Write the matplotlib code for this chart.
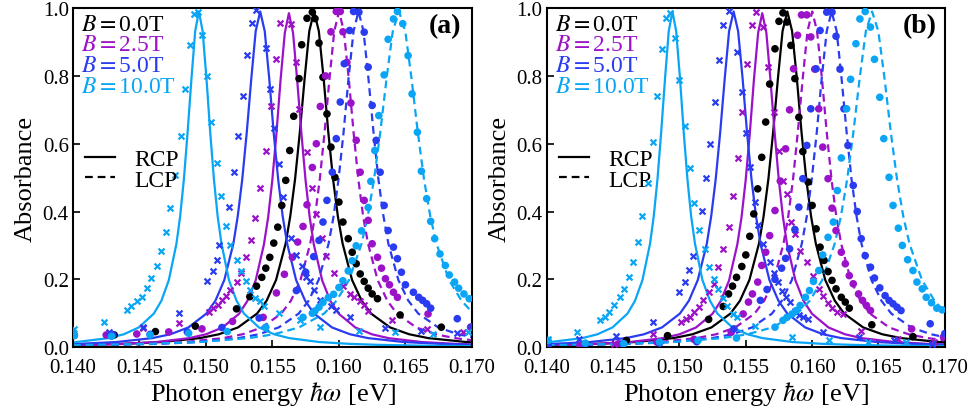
import matplotlib
matplotlib.use('Agg')
import matplotlib.pyplot as plt
from matplotlib.lines import Line2D

plt.rcParams['font.family'] = 'serif'
plt.rcParams['font.serif'] = ['Liberation Serif', 'DejaVu Serif']
plt.rcParams['mathtext.fontset'] = 'stix'

fields = ['0.0', '2.5', '5.0', '10.0']
colors = ['#000000', '#9c12c8', '#2a3cf0', '#0aa6f5']

# fitted curves (shared by both panels)
fit_rcp_x = {
    '0.0': [0.1400, 0.14383, 0.14669, 0.14955, 0.15098, 0.15241, 0.15384, 0.15456, 0.15527, 0.15599,
            0.15634, 0.15670, 0.15706, 0.15742, 0.15777, 0.15813, 0.15849, 0.15885, 0.15920, 0.15956,
            0.15992, 0.16028, 0.16099, 0.16171, 0.16242, 0.16385, 0.16528, 0.16671, 0.16957, 0.1700],
    '2.5': [0.1400, 0.14374, 0.14624, 0.14874, 0.14999, 0.15124, 0.15249, 0.15311, 0.15374, 0.15436,
            0.15468, 0.15499, 0.15530, 0.15561, 0.15593, 0.15624, 0.15655, 0.15686, 0.15718, 0.15749,
            0.15780, 0.15811, 0.15874, 0.15936, 0.15999, 0.16124, 0.16249, 0.16374, 0.16624, 0.16874, 0.1700],
    '5.0': [0.1400, 0.14328, 0.14598, 0.14733, 0.14868, 0.15003, 0.15071, 0.15138, 0.15206, 0.15239,
            0.15273, 0.15307, 0.15341, 0.15374, 0.15408, 0.15442, 0.15476, 0.15509, 0.15543, 0.15577,
            0.15611, 0.15678, 0.15746, 0.15813, 0.15948, 0.16083, 0.16218, 0.16488, 0.16758, 0.1700],
    '10.0': [0.1400, 0.14269, 0.14382, 0.14495, 0.14608, 0.14665, 0.14721, 0.14778, 0.14806, 0.14834,
             0.14862, 0.14891, 0.14919, 0.14947, 0.14975, 0.15004, 0.15032, 0.15060, 0.15088, 0.15117,
             0.15173, 0.15230, 0.15286, 0.15399, 0.15512, 0.15625, 0.15851, 0.16077, 0.16303, 0.16642, 0.1700],
}
fit_rcp_y = {
    '0.0': [0.0061, 0.0098, 0.0152, 0.0268, 0.0381, 0.0582, 0.099, 0.137, 0.198, 0.305,
            0.386, 0.495, 0.634, 0.792, 0.932, 0.99, 0.932, 0.792, 0.634, 0.495,
            0.386, 0.305, 0.198, 0.137, 0.099, 0.0582, 0.0381, 0.0268, 0.0152, 0.0142],
    '2.5': [0.0058, 0.0098, 0.0151, 0.0266, 0.0379, 0.0579, 0.0985, 0.136, 0.197, 0.303,
            0.384, 0.4925, 0.630, 0.788, 0.927, 0.985, 0.927, 0.788, 0.630, 0.4925,
            0.384, 0.303, 0.197, 0.136, 0.0985, 0.0579, 0.0379, 0.0266, 0.0151, 0.0098, 0.0081],
    '5.0': [0.0090, 0.0152, 0.0268, 0.0381, 0.0582, 0.099, 0.137, 0.198, 0.305, 0.386,
            0.495, 0.634, 0.792, 0.932, 0.99, 0.932, 0.792, 0.634, 0.495, 0.386,
            0.305, 0.198, 0.137, 0.099, 0.0582, 0.0381, 0.0268, 0.0152, 0.0098, 0.0071],
    '10.0': [0.0139, 0.0268, 0.0381, 0.0582, 0.099, 0.137, 0.198, 0.305, 0.386, 0.495,
             0.634, 0.792, 0.932, 0.99, 0.932, 0.792, 0.634, 0.495, 0.386, 0.305,
             0.198, 0.137, 0.099, 0.0582, 0.0381, 0.0268, 0.0152, 0.0098, 0.0068, 0.0044, 0.0030],
}
fit_lcp_x = {
    '2.5': [0.1400, 0.14551, 0.14841, 0.15131, 0.15276, 0.15421, 0.15566, 0.15639, 0.15711, 0.15784,
            0.15820, 0.15856, 0.15892, 0.15929, 0.15965, 0.16001, 0.16037, 0.16074, 0.16110, 0.16146,
            0.16182, 0.16219, 0.16291, 0.16364, 0.16436, 0.16581, 0.16726, 0.16871, 0.1700],
    '5.0': [0.1400, 0.14647, 0.14947, 0.15247, 0.15397, 0.15547, 0.15697, 0.15772, 0.15847, 0.15922,
            0.15960, 0.15997, 0.16035, 0.16072, 0.16110, 0.16147, 0.16185, 0.16222, 0.16260, 0.16297,
            0.16335, 0.16372, 0.16447, 0.16522, 0.16597, 0.16747, 0.16897, 0.1700],
    '10.0': [0.1400, 0.14572, 0.14948, 0.15324, 0.15512, 0.15700, 0.15888, 0.15982, 0.16076, 0.16170,
             0.16217, 0.16264, 0.16311, 0.16358, 0.16405, 0.16452, 0.16499, 0.16546, 0.16593, 0.16640,
             0.16687, 0.16734, 0.16828, 0.16922, 0.1700],
}
fit_lcp_y = {
    '2.5': [0.0052, 0.0098, 0.0152, 0.0268, 0.0381, 0.0582, 0.099, 0.137, 0.198, 0.305,
            0.386, 0.495, 0.634, 0.792, 0.932, 0.99, 0.932, 0.792, 0.634, 0.495,
            0.386, 0.305, 0.198, 0.137, 0.099, 0.0582, 0.0381, 0.0268, 0.0204],
    '5.0': [0.0048, 0.0098, 0.0152, 0.0268, 0.0381, 0.0582, 0.099, 0.137, 0.198, 0.305,
            0.386, 0.495, 0.634, 0.792, 0.932, 0.99, 0.932, 0.792, 0.634, 0.495,
            0.386, 0.305, 0.198, 0.137, 0.099, 0.0582, 0.0381, 0.0296],
    '10.0': [0.0058, 0.0098, 0.0152, 0.0268, 0.0381, 0.0582, 0.099, 0.137, 0.198, 0.305,
             0.386, 0.495, 0.634, 0.792, 0.932, 0.99, 0.932, 0.792, 0.634, 0.495,
             0.386, 0.305, 0.198, 0.137, 0.104],
}

# measured data, panel (a)
a_dot_x = {
    '0.0': [0.1431, 0.1462, 0.1492, 0.1523, 0.1533, 0.1538, 0.1542, 0.1545, 0.1548, 0.1551, 0.1554,
            0.1557, 0.1560, 0.1563, 0.1566, 0.1570, 0.1572, 0.1576, 0.1580, 0.1582, 0.1585, 0.1588,
            0.1591, 0.1594, 0.1597, 0.1600, 0.1603, 0.1607, 0.1610, 0.1613, 0.1616, 0.1619, 0.1622,
            0.1625, 0.1629, 0.1646, 0.1677],
    '2.5': [0.1401, 0.1425, 0.1448, 0.1472, 0.1497, 0.1520, 0.1543, 0.1553, 0.1559, 0.1565, 0.1569,
            0.1573, 0.1576, 0.1580, 0.1583, 0.1586, 0.1590, 0.1594, 0.1598, 0.1601, 0.1603, 0.1606,
            0.1609, 0.1613, 0.1616, 0.1619, 0.1622, 0.1625, 0.1629, 0.1632, 0.1635, 0.1638, 0.1641,
            0.1644, 0.1667, 0.1699],
    '5.0': [0.1401, 0.1430, 0.1458, 0.1486, 0.1512, 0.1540, 0.1568, 0.1575, 0.1581, 0.1585, 0.1588,
            0.1591, 0.1595, 0.1598, 0.1601, 0.1604, 0.1608, 0.1611, 0.1615, 0.1619, 0.1622, 0.1625,
            0.1628, 0.1631, 0.1634, 0.1637, 0.1641, 0.1644, 0.1647, 0.1650, 0.1656, 0.1660, 0.1663,
            0.1666, 0.1669, 0.1689, 0.1700],
    '10.0': [0.1401, 0.1429, 0.1458, 0.1487, 0.1516, 0.1545, 0.1573, 0.1580, 0.1582, 0.1585, 0.1588,
             0.1592, 0.1596, 0.1600, 0.1603, 0.1607, 0.1610, 0.1613, 0.1617, 0.1622, 0.1624, 0.1627,
             0.1630, 0.1634, 0.1637, 0.1641, 0.1644, 0.1648, 0.1652, 0.1655, 0.1659, 0.1662, 0.1666,
             0.1669, 0.1672, 0.1676, 0.1680, 0.1683, 0.1687, 0.1690, 0.1694, 0.1698],
}
a_dot_y = {
    '0.0': [0.036, 0.046, 0.062, 0.113, 0.149, 0.180, 0.206, 0.233, 0.265, 0.307, 0.354,
            0.418, 0.492, 0.580, 0.681, 0.792, 0.892, 0.970, 0.988, 0.969, 0.897, 0.796,
            0.688, 0.590, 0.501, 0.428, 0.369, 0.320, 0.280, 0.246, 0.216, 0.194, 0.174,
            0.157, 0.143, 0.095, 0.059],
    '2.5': [0.035, 0.036, 0.039, 0.045, 0.054, 0.076, 0.088, 0.160, 0.215, 0.265, 0.310,
            0.356, 0.420, 0.530, 0.600, 0.710, 0.800, 0.930, 0.990, 0.990, 0.930, 0.840,
            0.720, 0.610, 0.516, 0.433, 0.374, 0.305, 0.265, 0.233, 0.202, 0.184, 0.162,
            0.147, 0.098, 0.059],
    '5.0': [0.035, 0.036, 0.038, 0.045, 0.058, 0.086, 0.167, 0.221, 0.267, 0.315, 0.369,
            0.433, 0.516, 0.615, 0.723, 0.836, 0.934, 0.990, 0.988, 0.929, 0.826, 0.713,
            0.610, 0.516, 0.418, 0.344, 0.295, 0.261, 0.221, 0.184, 0.162, 0.147, 0.138,
            0.128, 0.115, 0.084, 0.060],
    '10.0': [0.034, 0.032, 0.036, 0.041, 0.046, 0.059, 0.088, 0.100, 0.107, 0.118, 0.132,
             0.146, 0.156, 0.176, 0.196, 0.225, 0.255, 0.299, 0.343, 0.412, 0.489, 0.580,
             0.683, 0.803, 0.908, 0.968, 0.990, 0.954, 0.860, 0.747, 0.634, 0.519, 0.438,
             0.371, 0.320, 0.275, 0.241, 0.213, 0.192, 0.174, 0.157, 0.143],
}
a_cross_x = {
    '2.5': [0.1453, 0.1480, 0.1502, 0.1505, 0.1509, 0.1512, 0.1515, 0.1518, 0.1523, 0.1526, 0.1530,
            0.1534, 0.1537, 0.1541, 0.1545, 0.1549, 0.1553, 0.1556, 0.1564, 0.1568, 0.1570, 0.1576,
            0.1580, 0.1583, 0.1587, 0.1590, 0.1596, 0.1603, 0.1608, 0.1611, 0.1616, 0.1619, 0.1622,
            0.1640, 0.1666, 0.1693],
    '5.0': [0.1427, 0.1453, 0.1480, 0.1501, 0.1505, 0.1508, 0.1510, 0.1517, 0.1521, 0.1524, 0.1528,
            0.1531, 0.1535, 0.1538, 0.1545, 0.1548, 0.1551, 0.1555, 0.1558, 0.1564, 0.1568, 0.1572,
            0.1575, 0.1578, 0.1581, 0.1586, 0.1594, 0.1598, 0.1608, 0.1635, 0.1662, 0.1689],
    '10.0': [0.1401, 0.1423, 0.1441, 0.1444, 0.1448, 0.1452, 0.1456, 0.1459, 0.1463, 0.1466, 0.1470,
             0.1473, 0.1477, 0.1481, 0.1484, 0.1488, 0.1491, 0.1494, 0.1497, 0.1501, 0.1504, 0.1508,
             0.1511, 0.1515, 0.1518, 0.1523, 0.1526, 0.1530, 0.1533, 0.1537, 0.1541, 0.1544, 0.1555,
             0.1571, 0.1586, 0.1615, 0.1642, 0.1671, 0.1697],
}
a_cross_y = {
    '2.5': [0.056, 0.071, 0.103, 0.115, 0.125, 0.138, 0.150, 0.169, 0.192, 0.218, 0.265,
            0.317, 0.381, 0.469, 0.579, 0.711, 0.849, 0.957, 0.954, 0.841, 0.703, 0.577,
            0.469, 0.393, 0.322, 0.270, 0.219, 0.180, 0.157, 0.147, 0.135, 0.123, 0.108,
            0.079, 0.054, 0.044],
    '5.0': [0.046, 0.060, 0.100, 0.194, 0.224, 0.258, 0.302, 0.414, 0.516, 0.624, 0.742,
            0.862, 0.955, 0.995, 0.882, 0.762, 0.646, 0.541, 0.444, 0.322, 0.272, 0.238,
            0.208, 0.194, 0.169, 0.140, 0.120, 0.110, 0.088, 0.058, 0.048, 0.043],
    '10.0': [0.053, 0.074, 0.110, 0.121, 0.135, 0.149, 0.175, 0.204, 0.239, 0.285, 0.339,
             0.411, 0.508, 0.624, 0.761, 0.892, 0.983, 0.988, 0.921, 0.799, 0.664, 0.543,
             0.447, 0.357, 0.302, 0.258, 0.224, 0.194, 0.169, 0.145, 0.135, 0.122, 0.100,
             0.080, 0.060, 0.047, 0.044, 0.040, 0.045],
}

# measured data, panel (b)
b_dot_x = {
    '0.0': [0.1429, 0.1460, 0.1491, 0.1522, 0.1533, 0.1537, 0.1540, 0.1543, 0.1547, 0.1550, 0.1553,
            0.1556, 0.1559, 0.1562, 0.1565, 0.1568, 0.1572, 0.1575, 0.1578, 0.1581, 0.1584, 0.1587,
            0.1590, 0.1593, 0.1597, 0.1600, 0.1603, 0.1606, 0.1609, 0.1612, 0.1615, 0.1618, 0.1622,
            0.1625, 0.1628, 0.1645, 0.1676],
    '2.5': [0.1401, 0.1425, 0.1454, 0.1483, 0.1511, 0.1539, 0.1548, 0.1552, 0.1555, 0.1559, 0.1562,
            0.1565, 0.1568, 0.1572, 0.1576, 0.1580, 0.1583, 0.1586, 0.1589, 0.1592, 0.1596, 0.1599,
            0.1602, 0.1605, 0.1608, 0.1612, 0.1615, 0.1618, 0.1622, 0.1625, 0.1628, 0.1631, 0.1635,
            0.1638, 0.1641, 0.1644, 0.1675, 0.1699],
    '5.0': [0.1401, 0.1429, 0.1457, 0.1485, 0.1513, 0.1541, 0.1561, 0.1566, 0.1572, 0.1577, 0.1580,
            0.1583, 0.1587, 0.1590, 0.1593, 0.1596, 0.1599, 0.1603, 0.1606, 0.1611, 0.1615, 0.1618,
            0.1621, 0.1624, 0.1627, 0.1631, 0.1634, 0.1637, 0.1640, 0.1644, 0.1647, 0.1651, 0.1655,
            0.1658, 0.1661, 0.1664, 0.1667, 0.1689, 0.1700],
    '10.0': [0.1401, 0.1429, 0.1458, 0.1485, 0.1514, 0.1543, 0.1572, 0.1578, 0.1581, 0.1585, 0.1588,
             0.1591, 0.1595, 0.1598, 0.1601, 0.1605, 0.1608, 0.1612, 0.1616, 0.1619, 0.1622, 0.1626,
             0.1629, 0.1633, 0.1636, 0.1640, 0.1644, 0.1647, 0.1651, 0.1654, 0.1658, 0.1661, 0.1665,
             0.1668, 0.1672, 0.1676, 0.1679, 0.1683, 0.1686, 0.1690, 0.1694, 0.1698],
}
b_dot_y = {
    '0.0': [0.010, 0.020, 0.034, 0.082, 0.120, 0.157, 0.180, 0.206, 0.238, 0.272, 0.327,
            0.393, 0.467, 0.560, 0.664, 0.776, 0.880, 0.961, 0.986, 0.959, 0.890, 0.792,
            0.678, 0.577, 0.487, 0.418, 0.349, 0.295, 0.256, 0.223, 0.197, 0.172, 0.147,
            0.133, 0.115, 0.066, 0.031],
    '2.5': [0.008, 0.005, 0.010, 0.015, 0.023, 0.044, 0.098, 0.133, 0.157, 0.192, 0.241,
            0.280, 0.329, 0.403, 0.490, 0.585, 0.700, 0.821, 0.920, 0.980, 0.980, 0.915,
            0.820, 0.703, 0.590, 0.497, 0.410, 0.344, 0.280, 0.246, 0.211, 0.187, 0.157,
            0.138, 0.123, 0.108, 0.054, 0.030],
    '5.0': [0.006, 0.008, 0.010, 0.012, 0.016, 0.054, 0.138, 0.170, 0.200, 0.233, 0.262,
            0.290, 0.347, 0.413, 0.497, 0.595, 0.703, 0.821, 0.934, 0.988, 0.988, 0.917,
            0.820, 0.703, 0.595, 0.477, 0.400, 0.320, 0.270, 0.236, 0.204, 0.175, 0.152,
            0.138, 0.128, 0.118, 0.108, 0.069, 0.040],
    '10.0': [0.020, 0.012, 0.010, 0.015, 0.020, 0.027, 0.059, 0.079, 0.088, 0.098, 0.108,
             0.123, 0.147, 0.167, 0.194, 0.226, 0.272, 0.324, 0.369, 0.462, 0.558, 0.703,
             0.790, 0.895, 0.968, 0.990, 0.944, 0.849, 0.737, 0.615, 0.501, 0.418, 0.351,
             0.300, 0.258, 0.226, 0.192, 0.172, 0.147, 0.131, 0.115, 0.110],
}
b_cross_x = {
    '2.5': [0.1451, 0.1480, 0.1501, 0.1505, 0.1508, 0.1511, 0.1515, 0.1518, 0.1522, 0.1526, 0.1529,
            0.1533, 0.1537, 0.1540, 0.1544, 0.1547, 0.1551, 0.1555, 0.1558, 0.1563, 0.1567, 0.1571,
            0.1575, 0.1578, 0.1581, 0.1584, 0.1587, 0.1591, 0.1596, 0.1601, 0.1605, 0.1608, 0.1612,
            0.1615, 0.1619, 0.1623, 0.1637, 0.1665, 0.1692],
    '5.0': [0.1424, 0.1452, 0.1480, 0.1500, 0.1504, 0.1507, 0.1510, 0.1517, 0.1520, 0.1523, 0.1527,
            0.1530, 0.1533, 0.1537, 0.1543, 0.1547, 0.1550, 0.1553, 0.1557, 0.1559, 0.1563, 0.1568,
            0.1571, 0.1574, 0.1577, 0.1580, 0.1583, 0.1587, 0.1590, 0.1593, 0.1597, 0.1608, 0.1635,
            0.1662, 0.1690],
    '10.0': [0.1401, 0.1423, 0.1440, 0.1444, 0.1447, 0.1451, 0.1455, 0.1458, 0.1462, 0.1465, 0.1469,
             0.1472, 0.1476, 0.1480, 0.1483, 0.1487, 0.1490, 0.1493, 0.1497, 0.1500, 0.1504, 0.1508,
             0.1511, 0.1515, 0.1519, 0.1522, 0.1526, 0.1529, 0.1533, 0.1536, 0.1540, 0.1543, 0.1557,
             0.1585, 0.1613, 0.1642, 0.1671],
}
b_cross_y = {
    '2.5': [0.010, 0.040, 0.074, 0.082, 0.088, 0.103, 0.118, 0.138, 0.162, 0.187, 0.236,
            0.290, 0.354, 0.445, 0.558, 0.693, 0.836, 0.951, 0.988, 0.944, 0.827, 0.693,
            0.580, 0.489, 0.452, 0.370, 0.334, 0.285, 0.251, 0.209, 0.172, 0.152, 0.131,
            0.115, 0.105, 0.098, 0.049, 0.025, 0.015],
    '5.0': [0.025, 0.034, 0.074, 0.162, 0.192, 0.229, 0.270, 0.403, 0.500, 0.600, 0.723,
            0.848, 0.949, 0.990, 0.870, 0.754, 0.632, 0.531, 0.428, 0.359, 0.305, 0.251,
            0.219, 0.192, 0.167, 0.147, 0.133, 0.108, 0.095, 0.088, 0.082, 0.044, 0.030,
            0.020, 0.010],
    '10.0': [0.025, 0.044, 0.079, 0.090, 0.103, 0.123, 0.147, 0.172, 0.206, 0.251, 0.310,
             0.388, 0.485, 0.605, 0.742, 0.878, 0.971, 0.986, 0.912, 0.789, 0.651, 0.528,
             0.426, 0.347, 0.290, 0.236, 0.202, 0.172, 0.146, 0.120, 0.098, 0.088, 0.062,
             0.029, 0.020, 0.015, 0.015],
}

panels = [
    ('(a)', a_dot_x, a_dot_y, a_cross_x, a_cross_y, [0.075, 0.159, 0.410, 0.819], 0.974),
    ('(b)', b_dot_x, b_dot_y, b_cross_x, b_cross_y, [0.562, 0.159, 0.409, 0.819], 0.980),
]

fig = plt.figure(figsize=(9.73, 4.14), dpi=100)

for tag, dx, dy, cx, cy, rect, tagx in panels:
    ax = fig.add_axes(rect)
    for b, col in zip(fields, colors):
        ax.plot(fit_rcp_x[b], fit_rcp_y[b], '-', color=col, lw=1.6, zorder=2)
        if b in fit_lcp_x:
            ax.plot(fit_lcp_x[b], fit_lcp_y[b], '--', color=col, lw=1.6,
                    dashes=(3.5, 2.2), zorder=2)
    for b, col in zip(fields, colors):
        ax.scatter(dx[b], dy[b], s=30, color=col, edgecolors='none', zorder=3)
        if b in cx:
            ax.scatter(cx[b], cy[b], s=18, marker='x', color=col, linewidths=1.6, zorder=3)

    ax.set_xlim(0.140, 0.170)
    ax.set_ylim(0.0, 1.0)
    ax.set_xticks([0.140, 0.145, 0.150, 0.155, 0.160, 0.165, 0.170])
    ax.set_xticklabels(['0.140', '0.145', '0.150', '0.155', '0.160', '0.165', '0.170'])
    ax.set_yticks([0.0, 0.2, 0.4, 0.6, 0.8, 1.0])
    ax.set_yticklabels(['0.0', '0.2', '0.4', '0.6', '0.8', '1.0'])
    ax.tick_params(direction='in', length=5, width=1.2, labelsize=15)
    ax.tick_params(axis='x', pad=7.5)
    ax.tick_params(axis='y', pad=3)
    for sp in ax.spines.values():
        sp.set_linewidth(1.5)
    ax.set_xlabel(r'Photon energy $\hbar\omega$ [eV]', fontsize=19, labelpad=1.5)
    ax.set_ylabel('Absorbance', fontsize=19, labelpad=4)

    for i, (b, col) in enumerate(zip(fields, colors)):
        ax.text(0.02, 0.936 - 0.061 * i, r'$B = $' + b + 'T', color=col, fontsize=17,
                transform=ax.transAxes, va='baseline', ha='left')

    handles = [Line2D([], [], color='k', lw=1.6, ls='-'),
               Line2D([], [], color='k', lw=1.6, ls='--', dashes=(3.5, 2.2))]
    ax.legend(handles, ['RCP', 'LCP'], loc='upper left', bbox_to_anchor=(0.0, 0.62),
              frameon=False, fontsize=17, handlelength=1.3, handletextpad=0.8,
              labelspacing=-0.05, borderpad=0.2, borderaxespad=0.3)

    ax.text(tagx, 0.93, tag, transform=ax.transAxes, fontsize=20, fontweight='bold',
            ha='right', va='baseline')

fig.savefig('out.png', dpi=100)
